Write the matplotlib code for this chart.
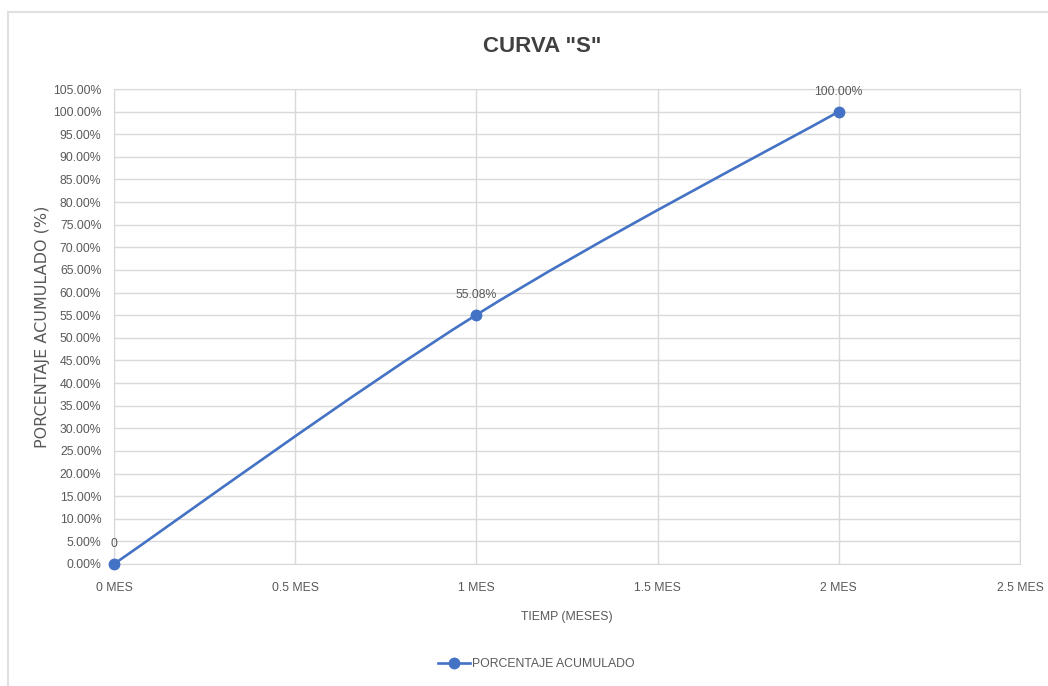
import matplotlib.pyplot as plt
from matplotlib.path import Path
from matplotlib.patches import PathPatch, Rectangle
from matplotlib.lines import Line2D

plt.rcParams['font.family'] = ['Liberation Sans', 'DejaVu Sans']

meses = [0, 1, 2]
porcentaje = [0.0, 0.5508, 1.0]
etiquetas = ['0', '55.08%', '100.00%']
x_ticks = [0, 0.5, 1, 1.5, 2, 2.5]
x_labels = ['0 MES', '0.5 MES', '1 MES', '1.5 MES', '2 MES', '2.5 MES']

azul = '#4472C4'
gris_txt = '#595959'
gris_grid = '#D9D9D9'

fig = plt.figure(figsize=(10.48, 6.86), dpi=100)
fig.patches.append(Rectangle((8 / 1048, -0.1), 1.2, 1.1 - 12 / 686,
                             transform=fig.transFigure, fill=False,
                             edgecolor='#E0E0E0', linewidth=1.5))
ax = fig.add_axes([114 / 1048, 1 - 564 / 686, (1020 - 114) / 1048, (564 - 89) / 686])

# linea suavizada (bezier tipo Excel)
verts = [(meses[0], porcentaje[0])]
codes = [Path.MOVETO]
n = len(meses)
for i in range(n - 1):
    p0 = (meses[max(i - 1, 0)], porcentaje[max(i - 1, 0)])
    p1 = (meses[i], porcentaje[i])
    p2 = (meses[i + 1], porcentaje[i + 1])
    p3 = (meses[min(i + 2, n - 1)], porcentaje[min(i + 2, n - 1)])
    c1 = (p1[0] + (p2[0] - p0[0]) / 6, p1[1] + (p2[1] - p0[1]) / 6)
    c2 = (p2[0] - (p3[0] - p1[0]) / 6, p2[1] - (p3[1] - p1[1]) / 6)
    verts += [c1, c2, p2]
    codes += [Path.CURVE4] * 3
ax.add_patch(PathPatch(Path(verts, codes), facecolor='none', edgecolor=azul,
                       linewidth=1.9, zorder=3))
ax.plot(meses, porcentaje, linestyle='none', marker='o', markersize=7.5,
        color=azul, zorder=4, clip_on=False)

for x, y, t in zip(meses, porcentaje, etiquetas):
    ax.annotate(t, (x, y), xytext=(0, 10), textcoords='offset points',
                ha='center', va='bottom', fontsize=8.8, color=gris_txt)

ax.set_xlim(0, 2.5)
ax.set_ylim(0, 1.05)
ax.set_xticks(x_ticks)
ax.set_xticklabels(x_labels)
ax.set_yticks([i * 0.05 for i in range(22)])
ax.set_yticklabels(['%.2f%%' % (i * 5) for i in range(22)])
ax.grid(True, color=gris_grid, linewidth=1)
ax.set_axisbelow(True)
for s in ax.spines.values():
    s.set_color(gris_grid)
ax.tick_params(length=0, labelsize=8.8, colors=gris_txt)
ax.tick_params(axis='y', pad=9)
ax.tick_params(axis='x', pad=13)

ax.set_xlabel('TIEMP (MESES)', fontsize=8.8, color=gris_txt, labelpad=12)
ax.set_ylabel('PORCENTAJE ACUMULADO (%)', fontsize=11.5, color=gris_txt,
              labelpad=2, family='DejaVu Sans')
fig.text(0.517, 1 - 47 / 686, 'CURVA "S"', ha='center', va='center',
         fontsize=16, fontweight='bold', color='#404040')

h = Line2D([], [], color=azul, marker='o', markersize=7.5, linewidth=1.9)
fig.legend([h], ['PORCENTAJE ACUMULADO'], loc='center', bbox_to_anchor=(0.512, 1 - 664 / 686),
           frameon=False, fontsize=8.8, labelcolor=gris_txt, handlelength=2.6, handletextpad=0.2)

fig.savefig('out.png', dpi=100)
